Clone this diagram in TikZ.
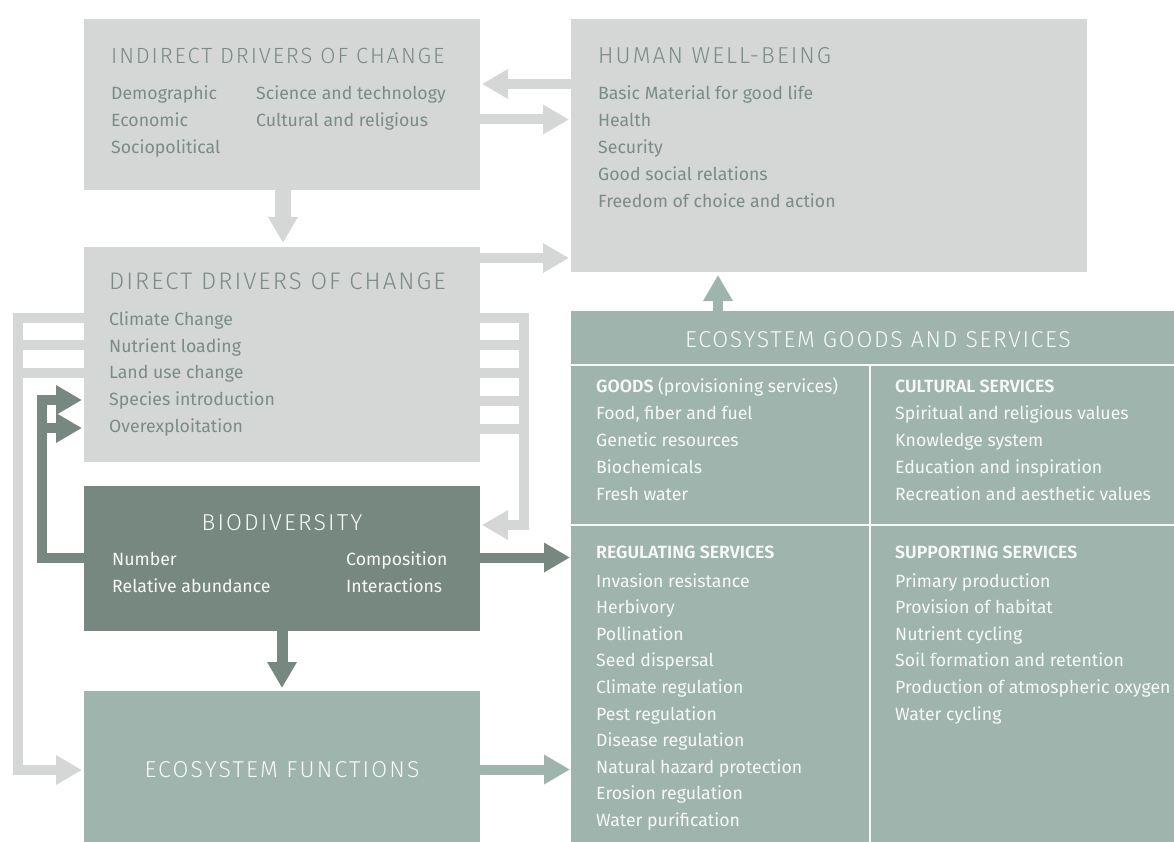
\documentclass[tikz,border=0pt]{standalone}
\usepackage{fontspec}
\setmainfont{Fira Sans}[BoldFont={Fira Sans SemiBold}]
\newfontfamily\ttlfont{Fira Sans Light}
\newcommand\tfs[2]{\ttlfont\fontsize{#1}{#1}\selectfont\addfontfeatures{LetterSpace=#2}}
\usetikzlibrary{arrows.meta}
\definecolor{boxgray}{HTML}{D5D7D6}
\definecolor{txtgray}{HTML}{7A8C84}
\definecolor{darkgreen}{HTML}{778880}
\definecolor{sage}{HTML}{9FB4AD}
\definecolor{offwhite}{HTML}{F7F9F8}
\tikzset{
  box/.style={anchor=north west, inner sep=0pt, outer sep=0pt, draw=none},
  graybox/.style={box, fill=boxgray},
  darkbox/.style={box, fill=darkgreen},
  sagebox/.style={box, fill=sage},
  ttl/.style={inner sep=0pt},
  itm/.style={anchor=base west, inner sep=0pt, font=\fontsize{17.7}{27}\selectfont},
  hdr/.style={itm, font=\bfseries\fontsize{17.7}{27}\selectfont},
  conn/.style={line width=10pt, line cap=butt, line join=miter},
  tipped/.style={-{Triangle[length=26pt,width=28pt]}},
  gline/.style={conn, draw=boxgray},
  dline/.style={conn, draw=darkgreen},
  sline/.style={conn, draw=sage},
  divider/.style={draw=offwhite, line width=1.5pt},
}
\begin{document}
\begin{tikzpicture}[x=1pt,y=-1pt]
\useasboundingbox (0,0) rectangle (1174,842);
% boxes
\node[graybox, minimum width=396pt, minimum height=171pt] (ind) at (84,19) {};
\node[graybox, minimum width=516pt, minimum height=253pt] (hwb) at (571,19) {};
\node[graybox, minimum width=396pt, minimum height=215pt] (dd) at (84,247) {};
\node[darkbox, minimum width=396pt, minimum height=145pt] (bio) at (84,486) {};
\node[sagebox, minimum width=396pt, minimum height=151pt] (ef) at (84,691) {};
\node[sagebox, minimum width=603pt, minimum height=531pt] (egs) at (571,311) {};
% dividers in goods and services
\coordinate (dv1) at (571,365);
\coordinate (dv2) at (571,525);
\coordinate (dvx) at (870,365);
\draw[divider] (dv1) -- (egs.east |- dv1);
\draw[divider] (dv2) -- (egs.east |- dv2);
\draw[divider] (dvx) -- (egs.south -| dvx);
% levels
\coordinate (yA) at (0,84);
\coordinate (yB) at (0,119.5);
\coordinate (yC) at (0,258);
\coordinate (xI) at (283,0);
\coordinate (xU) at (718,0);
\coordinate (xB) at (282,0);
\coordinate (yD) at (0,557.5);
\coordinate (yE) at (0,769.5);
\coordinate (xL) at (18,0);
\coordinate (xR) at (524,0);
\coordinate (xD) at (42,0);
\coordinate (y318) at (0,318);
\coordinate (y345) at (0,345);
\coordinate (y373) at (0,373);
\coordinate (y401) at (0,401);
\coordinate (y429) at (0,429);
\coordinate (y525) at (0,525);
\coordinate (y770) at (0,770);
\coordinate (y558) at (0,558);
\coordinate (y400) at (0,400);
\coordinate (y428) at (0,428);
% straight arrows
\draw[gline, tipped, shorten >=2pt] (hwb.west |- yA) -- (ind.east |- yA);
\draw[gline, tipped, shorten >=2pt] (ind.east |- yB) -- (hwb.west |- yB);
\draw[gline, tipped, shorten >=2pt] (dd.east |- yC) -- (hwb.west |- yC);
\draw[gline, tipped, line width=16pt, shorten >=4pt] (ind.south -| xI) -- (dd.north -| xI);
\draw[sline, tipped, shorten >=3pt] (egs.north -| xU) -- (hwb.south -| xU);
\draw[dline, tipped, line width=11pt, shorten >=3pt] (bio.south -| xB) -- (ef.north -| xB);
\draw[dline, tipped, shorten >=1pt] (bio.east |- yD) -- (egs.west |- yD);
\draw[sline, tipped, shorten >=1pt] (ef.east |- yE) -- (egs.west |- yE);
% left gray feedback: direct drivers -> ecosystem functions
\draw[gline, tipped, shorten >=2pt] (dd.west |- y318) -- (xL |- y318) -- (xL |- y770) -- (ef.west |- y770);
\draw[gline] (dd.west |- y345) -- (xL |- y345);
\draw[gline] (dd.west |- y373) -- (xL |- y373);
% right gray: direct drivers -> biodiversity
\draw[gline, tipped, shorten >=2pt] (dd.east |- y318) -- (xR |- y318) -- (xR |- y525) -- (bio.east |- y525);
\draw[gline] (dd.east |- y345) -- (xR |- y345);
\draw[gline] (dd.east |- y373) -- (xR |- y373);
\draw[gline] (dd.east |- y401) -- (xR |- y401);
\draw[gline] (dd.east |- y429) -- (xR |- y429);
% left dark: biodiversity -> direct drivers
\draw[dline, tipped, shorten >=2pt] (bio.west |- y558) -- (xD |- y558) -- (xD |- y400) -- (dd.west |- y400);
\draw[dline, tipped, shorten >=2pt] (xD |- y428) -- (dd.west |- y428);
% texts: indirect drivers
\node[ttl, anchor=base west, text=txtgray, font=\tfs{22}{8.5}] (ind-t) at (111,64) {INDIRECT DRIVERS OF CHANGE};
\foreach \t [count=\i from 0] in {Demographic, Economic, Sociopolitical}
  \node[itm, text=txtgray] (ind-a\i) at (111,100+27*\i) {\t};
\foreach \t [count=\i from 0] in {Science and technology, Cultural and religious}
  \node[itm, text=txtgray] (ind-b\i) at (256,100+27*\i) {\t};
% human well-being
\node[ttl, anchor=base west, text=txtgray, font=\tfs{23}{9}] (hwb-t) at (598,64) {HUMAN WELL-BEING};
\foreach \t [count=\i from 0] in {Basic Material for good life, Health, Security, Good social relations, Freedom of choice and action}
  \node[itm, text=txtgray] (hwb-a\i) at (598,100+27*\i) {\t};
% direct drivers
\node[ttl, anchor=base west, text=txtgray, font=\tfs{24}{8.5}] (dd-t) at (109,289) {DIRECT DRIVERS OF CHANGE};
\foreach \t [count=\i from 0] in {Climate Change, Nutrient loading, Land use change, Species introduction, Overexploitation}
  \node[itm, text=txtgray] (dd-a\i) at (109,325.5+26.7*\i) {\t};
% biodiversity
\node[ttl, anchor=base, text=offwhite, font=\tfs{23}{9.3}] (bio-t) at (282,530) {BIODIVERSITY};
\node[itm, text=offwhite] (bio-a0) at (112,565) {Number};
\node[itm, text=offwhite] (bio-a1) at (112,592) {Relative abundance};
\node[itm, text=offwhite] (bio-b0) at (346,565) {Composition};
\node[itm, text=offwhite] (bio-b1) at (346,592) {Interactions};
% ecosystem functions
\node[ttl, anchor=base, text=offwhite, font=\tfs{23}{9.5}] (ef-t) at (282,777) {ECOSYSTEM FUNCTIONS};
% goods and services
\node[ttl, anchor=base, text=offwhite, font=\tfs{23}{7.5}] (egs-t) at (878,347) {ECOSYSTEM GOODS AND SERVICES};
\node[itm, text=offwhite] (gd-h) at (596,392) {\bfseries GOODS\mdseries\ (provisioning services)};
\foreach \t [count=\i from 0] in {{Food, fiber and fuel}, Genetic resources, Biochemicals, Fresh water}
  \node[itm, text=offwhite] (gd-a\i) at (596,419+27*\i) {\t};
\node[hdr, text=offwhite] (cu-h) at (895,392) {CULTURAL SERVICES};
\foreach \t [count=\i from 0] in {Spiritual and religious values, Knowledge system, Education and inspiration, Recreation and aesthetic values}
  \node[itm, text=offwhite] (cu-a\i) at (895,419+27*\i) {\t};
\node[hdr, text=offwhite] (rg-h) at (596,558) {REGULATING SERVICES};
\foreach \t [count=\i from 0] in {Invasion resistance, Herbivory, Pollination, Seed dispersal, Climate regulation, Pest regulation, Disease regulation, Natural hazard protection, Erosion regulation, Water purification}
  \node[itm, text=offwhite] (rg-a\i) at (596,587+26.6*\i) {\t};
\node[hdr, text=offwhite] (sp-h) at (895,558) {SUPPORTING SERVICES};
\foreach \t [count=\i from 0] in {Primary production, Provision of habitat, Nutrient cycling, Soil formation and retention, Production of atmospheric oxygen, Water cycling}
  \node[itm, text=offwhite] (sp-a\i) at (895,587+26.6*\i) {\t};
\end{tikzpicture}
\end{document}
